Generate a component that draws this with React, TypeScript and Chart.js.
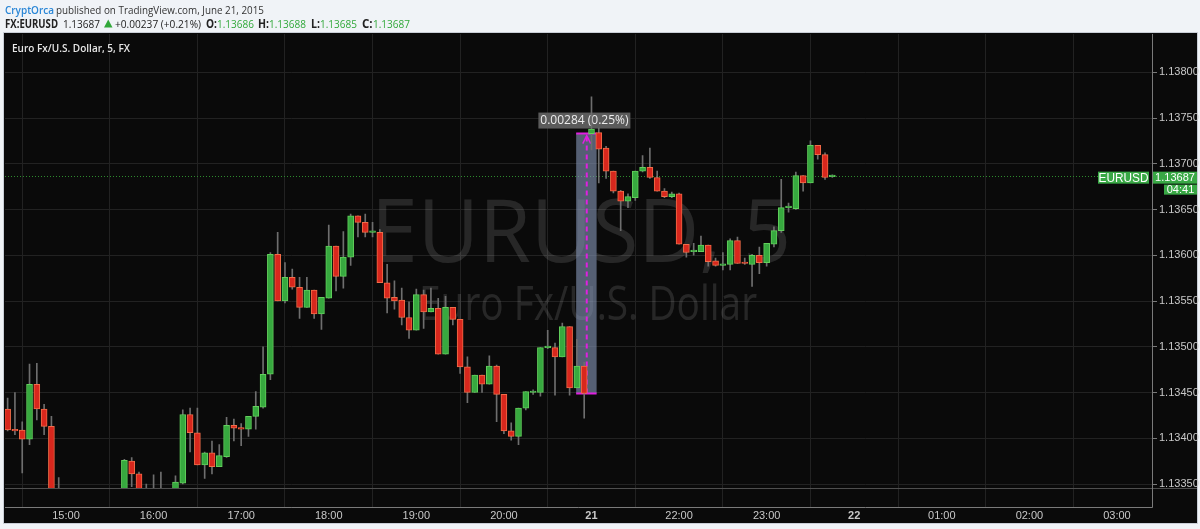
import { useEffect, useRef } from 'react';
import { Chart, registerables } from 'chart.js';

Chart.register(...registerables);

// slot 0 = 15:00, one slot = one 5-minute candle
const FIRST_SLOT = -8;

const opens = [
  1.13432, 1.13409, 1.13409, 1.13399, 1.13459, 1.13432, 1.13413, 1.13338,
  1.13330, 1.13322, 1.13315, 1.13320, 1.13328, 1.13325, 1.13332, 1.13336,
  1.13340, 1.13375, 1.13361, 1.13340, 1.13335, 1.13342, 1.13338, 1.13343,
  1.13351, 1.13426, 1.13406, 1.13371, 1.13384, 1.13369, 1.13380, 1.13414,
  1.13411, 1.13410, 1.13424, 1.13434, 1.13470, 1.13601, 1.13550, 1.13576,
  1.13565, 1.13543, 1.13562, 1.13536, 1.13553, 1.13610, 1.13577, 1.13598,
  1.13643, 1.13636, 1.13625, 1.13625, 1.13570, 1.13554, 1.13551, 1.13532,
  1.13518, 1.13557, 1.13538, 1.13542, 1.13492, 1.13543, 1.13530, 1.13478,
  1.13450, 1.13469, 1.13459, 1.13479, 1.13448, 1.13408, 1.13402, 1.13433,
  1.13450, 1.13450, 1.13499, 1.13499, 1.13489, 1.13522, 1.13455, 1.13479,
  1.13733, 1.13734, 1.13717, 1.13692, 1.13670, 1.13659, 1.13663, 1.13692,
  1.13696, 1.13685, 1.13670, 1.13664, 1.13667, 1.13612, 1.13604, 1.13604,
  1.13611, 1.13594, 1.13589, 1.13590, 1.13616, 1.13592, 1.13590, 1.13600,
  1.13592, 1.13612, 1.13627, 1.13652, 1.13651, 1.13687, 1.13679, 1.13720,
  1.13710, 1.13686,
];
const highs = [
  1.13444, 1.13450, 1.13418, 1.13481, 1.13482, 1.13437, 1.13424, 1.13357,
  1.13338, 1.13330, 1.13325, 1.13332, 1.13340, 1.13338, 1.13342, 1.13344,
  1.13377, 1.13379, 1.13363, 1.13350, 1.13360, 1.13363, 1.13344, 1.13359,
  1.13431, 1.13433, 1.13433, 1.13385, 1.13397, 1.13393, 1.13423, 1.13421,
  1.13416, 1.13424, 1.13451, 1.13500, 1.13603, 1.13625, 1.13592, 1.13585,
  1.13576, 1.13576, 1.13562, 1.13554, 1.13633, 1.13610, 1.13626, 1.13645,
  1.13643, 1.13645, 1.13636, 1.13628, 1.13590, 1.13572, 1.13564, 1.13549,
  1.13563, 1.13562, 1.13564, 1.13553, 1.13555, 1.13543, 1.13530, 1.13489,
  1.13469, 1.13469, 1.13490, 1.13480, 1.13448, 1.13417, 1.13433, 1.13451,
  1.13453, 1.13499, 1.13518, 1.13504, 1.13526, 1.13522, 1.13508, 1.13483,
  1.13773, 1.13739, 1.13719, 1.13692, 1.13671, 1.13667, 1.13692, 1.13709,
  1.13717, 1.13692, 1.13673, 1.13669, 1.13668, 1.13612, 1.13613, 1.13621,
  1.13611, 1.13597, 1.13603, 1.13618, 1.13620, 1.13597, 1.13601, 1.13609,
  1.13613, 1.13631, 1.13683, 1.13657, 1.13691, 1.13687, 1.13725, 1.13720,
  1.13712, 1.13688,
];
const lows = [
  1.13408, 1.13404, 1.13362, 1.13393, 1.13420, 1.13404, 1.13335, 1.13322,
  1.13318, 1.13310, 1.13305, 1.13312, 1.13320, 1.13318, 1.13325, 1.13328,
  1.13336, 1.13347, 1.13335, 1.13330, 1.13330, 1.13332, 1.13332, 1.13338,
  1.13350, 1.13385, 1.13371, 1.13356, 1.13361, 1.13369, 1.13379, 1.13397,
  1.13392, 1.13402, 1.13410, 1.13433, 1.13464, 1.13550, 1.13548, 1.13563,
  1.13531, 1.13543, 1.13531, 1.13519, 1.13553, 1.13561, 1.13564, 1.13589,
  1.13620, 1.13620, 1.13620, 1.13570, 1.13537, 1.13541, 1.13524, 1.13509,
  1.13518, 1.13520, 1.13538, 1.13492, 1.13492, 1.13524, 1.13471, 1.13439,
  1.13450, 1.13450, 1.13459, 1.13418, 1.13405, 1.13398, 1.13393, 1.13431,
  1.13448, 1.13446, 1.13498, 1.13447, 1.13489, 1.13447, 1.13455, 1.13422,
  1.13715, 1.13679, 1.13684, 1.13668, 1.13627, 1.13652, 1.13660, 1.13691,
  1.13684, 1.13670, 1.13663, 1.13663, 1.13612, 1.13598, 1.13600, 1.13604,
  1.13588, 1.13588, 1.13584, 1.13584, 1.13591, 1.13590, 1.13566, 1.13580,
  1.13588, 1.13609, 1.13625, 1.13647, 1.13650, 1.13670, 1.13679, 1.13705,
  1.13683, 1.13685,
];
const closes = [
  1.13409, 1.13408, 1.13399, 1.13459, 1.13432, 1.13413, 1.13340, 1.13330,
  1.13322, 1.13315, 1.13320, 1.13328, 1.13325, 1.13332, 1.13336, 1.13340,
  1.13376, 1.13361, 1.13340, 1.13335, 1.13342, 1.13338, 1.13343, 1.13352,
  1.13426, 1.13406, 1.13371, 1.13384, 1.13369, 1.13381, 1.13414, 1.13411,
  1.13410, 1.13424, 1.13435, 1.13470, 1.13601, 1.13550, 1.13576, 1.13565,
  1.13543, 1.13562, 1.13536, 1.13554, 1.13610, 1.13577, 1.13598, 1.13643,
  1.13636, 1.13625, 1.13626, 1.13570, 1.13553, 1.13550, 1.13532, 1.13518,
  1.13557, 1.13538, 1.13542, 1.13492, 1.13543, 1.13530, 1.13478, 1.13450,
  1.13469, 1.13459, 1.13479, 1.13448, 1.13408, 1.13402, 1.13433, 1.13451,
  1.13451, 1.13499, 1.13500, 1.13489, 1.13522, 1.13455, 1.13479, 1.13449,
  1.13738, 1.13716, 1.13692, 1.13670, 1.13659, 1.13664, 1.13692, 1.13696,
  1.13685, 1.13670, 1.13664, 1.13667, 1.13612, 1.13603, 1.13605, 1.13611,
  1.13593, 1.13589, 1.13590, 1.13616, 1.13591, 1.13591, 1.13600, 1.13592,
  1.13613, 1.13627, 1.13652, 1.13653, 1.13687, 1.13679, 1.13720, 1.13710,
  1.13685, 1.13687,
];

const timeTickSlots = [0, 12, 24, 36, 48, 60, 72, 84, 96, 108, 120, 132, 144];
const timeTickLabels = ['15:00', '16:00', '17:00', '18:00', '19:00', '20:00', '21', '22:00', '23:00', '22', '01:00', '02:00', '03:00'];
const dayTickLabels = ['21', '22'];
const priceTicks = [1.1335, 1.134, 1.1345, 1.135, 1.1355, 1.136, 1.1365, 1.137, 1.1375, 1.138];

const lastPrice = 1.13687;
const measureLow = 1.13449;
const measureHigh = 1.13733;
const measureText = '0.00284 (0.25%)';
const measureSlots = [69.9, 72.7, 71.35];

const headerLine1 = ['CryptOrca', 'published on TradingView.com, June 21, 2015'];
const headerLine2 = ['FX:EURUSD', '1.13687', '+0.00237 (+0.21%)', 'O:', '1.13686', 'H:', '1.13688', 'L:', '1.13685', 'C:', '1.13687'];

const SANS = '"Open Sans", "DejaVu Sans", sans-serif';
const AXIS = '"Liberation Sans", Arial, sans-serif';

const decor = {
  id: 'tvDecor',
  beforeDraw(chart: any) {
    const { ctx } = chart;
    ctx.save();
    ctx.fillStyle = '#f0f3f7';
    ctx.fillRect(0, 0, 1200, 529);
    ctx.fillStyle = '#0a0a0a';
    ctx.fillRect(4, 33, 1193, 490);
    ctx.strokeStyle = '#c9ced6';
    ctx.lineWidth = 1;
    ctx.strokeRect(3.5, 32.5, 1194, 491);

    // header
    ctx.textBaseline = 'alphabetic';
    ctx.textAlign = 'left';
    ctx.font = `600 11.5px ${SANS}`;
    ctx.fillStyle = '#2a86d6';
    ctx.fillText(headerLine1[0], 5, 13.5, 49);
    ctx.font = `400 11.5px ${SANS}`;
    ctx.fillStyle = '#333333';
    ctx.fillText(headerLine1[1], 56, 13.5, 208);

    const green = '#31a83a';
    const dark = '#222222';
    const parts: [string, number, number, string, string][] = [
      [headerLine2[0], 5, 53, dark, '700'],
      [headerLine2[1], 63, 37, dark, '400'],
      [headerLine2[2], 115, 86, dark, '400'],
      [headerLine2[3], 206, 11, dark, '700'],
      [headerLine2[4], 217, 37, green, '400'],
      [headerLine2[5], 258, 11, dark, '700'],
      [headerLine2[6], 269, 37, green, '400'],
      [headerLine2[7], 311, 9, dark, '700'],
      [headerLine2[8], 320, 37, green, '400'],
      [headerLine2[9], 362, 11, dark, '700'],
      [headerLine2[10], 373, 37, green, '400'],
    ];
    for (const [t, x, w, c, wt] of parts) {
      ctx.font = `${wt} 11.5px ${SANS}`;
      ctx.fillStyle = c;
      ctx.fillText(t, x, 27.5, w);
    }
    // up triangle
    ctx.fillStyle = green;
    ctx.beginPath();
    ctx.moveTo(104, 27.5);
    ctx.lineTo(112.5, 27.5);
    ctx.lineTo(108.25, 19.5);
    ctx.closePath();
    ctx.fill();
    ctx.restore();
  },
  beforeDatasetsDraw(chart: any) {
    const { ctx, scales } = chart;
    const x = scales.x;
    const y = scales.y;
    const area = chart.chartArea;
    ctx.save();
    ctx.beginPath();
    ctx.rect(area.left, area.top, area.right - area.left, area.bottom - area.top);
    ctx.clip();

    // watermark
    ctx.fillStyle = 'rgba(255,255,255,0.12)';
    ctx.textAlign = 'center';
    ctx.textBaseline = 'alphabetic';
    ctx.font = `400 88px ${SANS}`;
    ctx.fillText('EURUSD, 5', 581, 262, 420);
    ctx.font = `400 47px ${SANS}`;
    ctx.fillText('Euro Fx/U.S. Dollar', 588, 320, 338);

    // current price dotted line
    const py = y.getPixelForValue(lastPrice);
    ctx.strokeStyle = '#2d8a2d';
    ctx.lineWidth = 1;
    ctx.setLineDash([1, 2]);
    ctx.beginPath();
    ctx.moveTo(area.left, Math.round(py) + 0.5);
    ctx.lineTo(1098, Math.round(py) + 0.5);
    ctx.stroke();
    ctx.setLineDash([]);

    // measure box
    const xl = x.getPixelForValue(measureSlots[0]);
    const xr = x.getPixelForValue(measureSlots[1]);
    const xm = x.getPixelForValue(measureSlots[2]);
    const yt = y.getPixelForValue(measureHigh);
    const yb = y.getPixelForValue(measureLow);
    ctx.fillStyle = 'rgba(135,152,185,0.6)';
    ctx.fillRect(xl, yt, xr - xl, yb - yt);
    ctx.strokeStyle = '#e01fe0';
    ctx.lineWidth = 2;
    ctx.beginPath();
    ctx.moveTo(xl, yt);
    ctx.lineTo(xr, yt);
    ctx.moveTo(xl, yb);
    ctx.lineTo(xr, yb);
    ctx.stroke();
    ctx.setLineDash([5, 4]);
    ctx.beginPath();
    ctx.moveTo(xm, yb);
    ctx.lineTo(xm, yt + 3);
    ctx.stroke();
    ctx.setLineDash([]);
    ctx.lineWidth = 1.5;
    ctx.beginPath();
    ctx.moveTo(xm - 4, yt + 10);
    ctx.lineTo(xm, yt + 2);
    ctx.lineTo(xm + 4, yt + 10);
    ctx.stroke();

    // measure label
    const cx = (xl + xr) / 2 - 2;
    ctx.fillStyle = '#5b5b5b';
    ctx.fillRect(cx - 46, yt - 21, 92, 16);
    ctx.fillStyle = '#ececec';
    ctx.font = `400 12px ${SANS}`;
    ctx.textAlign = 'center';
    ctx.textBaseline = 'middle';
    ctx.fillText(measureText, cx, yt - 12.5);
    ctx.restore();
  },
  afterDraw(chart: any) {
    const { ctx, scales } = chart;
    const y = scales.y;
    const area = chart.chartArea;
    ctx.save();
    // pane separator
    ctx.strokeStyle = '#4e4e4e';
    ctx.lineWidth = 1;
    ctx.beginPath();
    ctx.moveTo(area.left, 488.5);
    ctx.lineTo(1197, 488.5);
    ctx.stroke();
    // axis lines
    ctx.strokeStyle = '#7a7a7a';
    ctx.beginPath();
    ctx.moveTo(area.left, 507.5);
    ctx.lineTo(area.right + 0.5, 507.5);
    ctx.moveTo(area.right + 0.5, area.top);
    ctx.lineTo(area.right + 0.5, 507.5);
    ctx.stroke();

    // price labels
    const py = y.getPixelForValue(lastPrice);
    const boxGreen = '#39a845';
    ctx.fillStyle = boxGreen;
    ctx.fillRect(1098, py - 4, 51, 12);
    ctx.fillRect(1153, py - 4, 44, 12);
    ctx.fillRect(1164, py + 9, 33, 10);
    ctx.fillStyle = '#ffffff';
    ctx.textBaseline = 'middle';
    ctx.textAlign = 'center';
    ctx.font = `400 13px ${AXIS}`;
    ctx.fillText('EURUSD', 1123.5, py + 2.5, 50);
    ctx.font = `400 11px ${AXIS}`;
    ctx.fillText(lastPrice.toFixed(5), 1175, py + 2.5, 42);
    ctx.fillText('04:41', 1180.5, py + 14.5, 31);

    // pane title
    ctx.textAlign = 'left';
    ctx.textBaseline = 'alphabetic';
    ctx.fillStyle = '#e6e6e6';
    ctx.font = `600 11px ${SANS}`;
    ctx.fillText('Euro Fx/U.S. Dollar, 5, FX', 12, 51.5, 118);
    ctx.restore();
  },
};

export default function App() {
  const ref = useRef<HTMLCanvasElement | null>(null);
  useEffect(() => {
    document.body.style.margin = '0';
    const canvas = ref.current;
    if (!canvas) return;
    const up = opens.map((o, i) => closes[i] >= o);
    const bodyData = opens.map((o, i) => ({ x: FIRST_SLOT + i, y: [o, closes[i]] }));
    const wickData = opens.map((_, i) => ({ x: FIRST_SLOT + i, y: [lows[i], highs[i]] }));
    const chart = new Chart(canvas, {
      type: 'bar',
      data: {
        datasets: [
          {
            data: bodyData as any,
            backgroundColor: up.map((u) => (u ? '#37a93f' : '#d8271d')),
            borderColor: up.map((u) => (u ? '#62cf5c' : '#f26c48')),
            borderWidth: 1,
            borderSkipped: false,
            barThickness: 6,
            minBarLength: 1.5,
            grouped: false,
          } as any,
          {
            data: wickData as any,
            backgroundColor: '#6e6e6e',
            borderWidth: 0,
            barThickness: 1,
            grouped: false,
          } as any,
        ],
      },
      options: {
        animation: false,
        responsive: false,
        layout: { padding: { left: 5, top: 34, right: 0, bottom: 0 } },
        plugins: { legend: { display: false }, tooltip: { enabled: false } },
        scales: {
          x: {
            type: 'linear',
            min: -8.36,
            max: 148.8,
            offset: false,
            grid: { color: '#222222', tickLength: 19, tickColor: '#222222', lineWidth: 1 },
            border: { display: false },
            afterBuildTicks: (s: any) => {
              s.ticks = timeTickSlots.map((v) => ({ value: v }));
            },
            afterFit: (s: any) => {
              s.height = 40.5;
            },
            ticks: {
              autoSkip: false,
              maxRotation: 0,
              padding: 2,
              color: '#c8c8c8',
              font: (c: any) => {
                const lbl = c.tick ? timeTickLabels[timeTickSlots.indexOf(c.tick.value)] : '';
                return { family: AXIS, size: 11, weight: dayTickLabels.includes(lbl) ? 'bold' : 'normal' };
              },
              callback: (v: any) => timeTickLabels[timeTickSlots.indexOf(Number(v))] ?? '',
            },
          } as any,
          y: {
            type: 'linear',
            position: 'right',
            min: 1.133451,
            max: 1.138418,
            grid: { color: '#222222', tickLength: 5, tickColor: '#7a7a7a' },
            border: { display: false },
            afterBuildTicks: (s: any) => {
              s.ticks = priceTicks.map((v) => ({ value: v }));
            },
            afterFit: (s: any) => {
              s.width = 48;
            },
            ticks: {
              padding: 2,
              color: '#c8c8c8',
              font: { family: AXIS, size: 11 },
              callback: (v: any) => Number(v).toFixed(5),
            },
          } as any,
        },
      },
      plugins: [decor],
    });
    return () => chart.destroy();
  }, []);
  return (
    <div style={{ width: 1200, height: 529 }}>
      <canvas ref={ref} width={1200} height={529} style={{ display: 'block', width: 1200, height: 529 }} />
    </div>
  );
}
